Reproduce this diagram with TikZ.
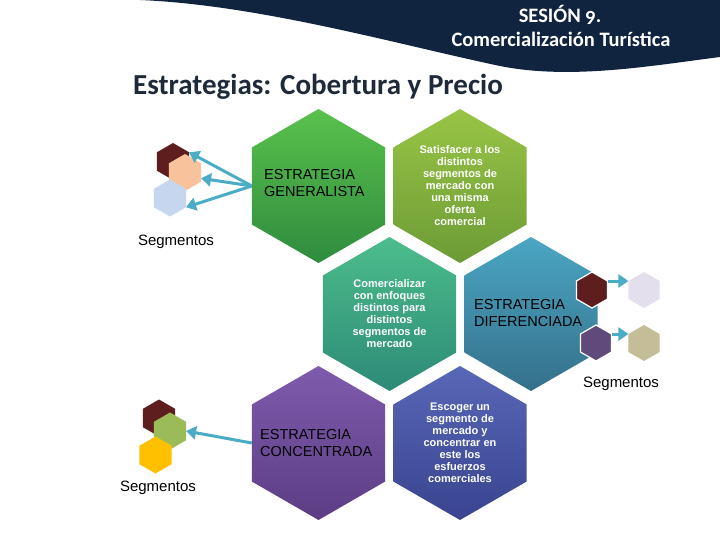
\documentclass[tikz,border=0pt]{standalone}
\usepackage{fontspec}
\setmainfont{Liberation Sans}
\newfontfamily\calibri{Carlito}[Numbers=OldStyle]
\usetikzlibrary{shapes.geometric,arrows.meta}
\definecolor{SNavy}{HTML}{10233F}
\definecolor{STitle}{HTML}{1E2A3A}
\definecolor{SArrow}{HTML}{4BACC6}
\definecolor{SBrown}{HTML}{5F1E1E}
\definecolor{SPeach}{HTML}{F8C39C}
\definecolor{SLightBlue}{HTML}{C6D6EE}
\definecolor{SLavender}{HTML}{E4DFEC}
\definecolor{SPurple}{HTML}{604A7B}
\definecolor{STan}{HTML}{C4BD97}
\definecolor{SOlive}{HTML}{9BBB59}
\definecolor{SYellow}{HTML}{FFC000}
\tikzset{
  bighex/.style={regular polygon,regular polygon sides=6,shape border rotate=30,
    minimum size=154pt,inner sep=0pt,outer sep=0pt},
  smallhex/.style={regular polygon,regular polygon sides=6,shape border rotate=30,
    minimum size=37pt,inner sep=0pt,outer sep=0pt,draw=white,line width=1.2pt},
  segarrow/.style={SArrow,line width=3pt,-{Triangle[length=10pt,width=13pt]}},
  hexlabel/.style={anchor=west,align=left,inner sep=0pt,font=\fontsize{14.5}{17}\selectfont},
  hexnote/.style={text=white,align=center,inner sep=0pt,font=\bfseries\fontsize{11}{12}\selectfont},
  seglabel/.style={inner sep=0pt,font=\fontsize{15}{18}\selectfont}
}

\begin{document}
\begin{tikzpicture}[x=1pt,y=-1pt]
\path[use as bounding box] (0,0) rectangle (720,540);
\fill[white] (0,0) rectangle (720,540);
% header band
\fill[SNavy] (140,0) .. controls (260,5) and (400,45) .. (500,66)
  .. controls (570,80) and (650,66) .. (720,57) -- (720,0) -- cycle;
\node[text=white,font=\calibri\bfseries\fontsize{20.5}{24}\selectfont] (sesion) at (560,15) {SESIÓN 9.};
\node[text=white,font=\calibri\bfseries\fontsize{20.5}{24}\selectfont] (curso) at (561,39) {Comercialización Turística};
\node[anchor=west,inner sep=0pt,text=STitle,font=\calibri\bfseries\fontsize{29}{34}\selectfont] (title) at (133,87) {Estrategias: Cobertura y Precio};
% honeycomb
\node[bighex,top color={rgb,255:red,90;green,193;blue,76},bottom color={rgb,255:red,46;green,140;blue,62}] (gen) at (318.5,186) {};
\node[bighex,top color={rgb,255:red,152;green,197;blue,69},bottom color={rgb,255:red,108;green,155;blue,54}] (sat) at (460,186) {};
\node[bighex,top color={rgb,255:red,76;green,189;blue,140},bottom color={rgb,255:red,45;green,138;blue,118}] (com) at (389.5,314) {};
\node[bighex,top color={rgb,255:red,74;green,166;blue,195},bottom color={rgb,255:red,53;green,112;blue,139}] (dif) at (531,314) {};
\node[bighex,top color={rgb,255:red,127;green,91;blue,173},bottom color={rgb,255:red,92;green,61;blue,132}] (con) at (318.5,443) {};
\node[bighex,top color={rgb,255:red,88;green,103;blue,183},bottom color={rgb,255:red,58;green,68;blue,144}] (esc) at (460,443) {};
\node[hexlabel] (genlbl) at (264,183) {ESTRATEGIA\\GENERALISTA};
\node[hexlabel] (diflbl) at (474,313) {ESTRATEGIA\\DIFERENCIADA};
\node[hexlabel] (conlbl) at (260,443) {ESTRATEGIA\\CONCENTRADA};
\node[hexnote] (satlbl) at (sat) {Satisfacer a los\\distintos\\segmentos de\\mercado con\\una misma\\oferta\\comercial};
\node[hexnote] (comlbl) at (com) {Comercializar\\con enfoques\\distintos para\\distintos\\segmentos de\\mercado};
\node[hexnote] (esclbl) at (esc) {Escoger un\\segmento de\\mercado y\\concentrar en\\este los\\esfuerzos\\comerciales};
% segments: generalista
\node[smallhex,fill=SBrown,draw=none] (gb) at (173,161.5) {};
\node[smallhex,fill=SPeach,draw=none] (gp) at (185,172.5) {};
\node[smallhex,fill=SLightBlue,draw=none] (gl) at (170,198) {};
\draw[segarrow] (gen.west) -- (gb.30);
\draw[segarrow] (gen.west) -- (gp.-20);
\draw[segarrow] (gen.west) -- (gl.-30);
\node[seglabel] (gseg) at (176,242) {Segmentos};
% segments: diferenciada
\node[smallhex,minimum size=36pt,fill=SBrown] (db) at (592,290) {};
\node[smallhex,minimum size=36pt,fill=SLavender,draw=none] (dl) at (644,290) {};
\node[smallhex,minimum size=36pt,fill=SPurple] (dp) at (596,343) {};
\node[smallhex,minimum size=36pt,fill=STan,draw=none] (dt) at (644,343) {};
\draw[segarrow] (db.30) -- (dl.150);
\draw[segarrow] (dp.30) -- (dt.150);
\node[seglabel] (dseg) at (621,384) {Segmentos};
% segments: concentrada
\node[smallhex,fill=SBrown,draw=none] (cb) at (159,418) {};
\node[smallhex,fill=SOlive,draw=none] (cg) at (170,431) {};
\node[smallhex,fill=SYellow,draw=none] (cy) at (155.5,455) {};
\draw[segarrow] (con.west) -- (cg.east);
\node[seglabel] (cseg) at (158,488) {Segmentos};
\end{tikzpicture}
\end{document}
